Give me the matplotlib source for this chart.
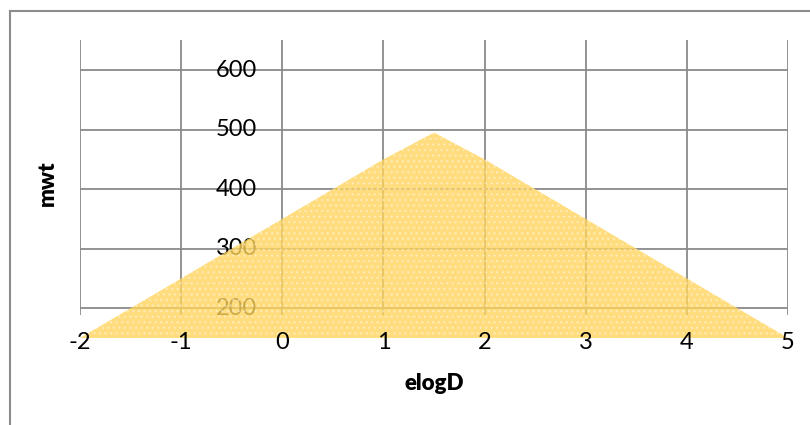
import numpy as np
import matplotlib.pyplot as plt
from matplotlib.lines import Line2D

plt.rcParams['font.family'] = ['Lato', 'DejaVu Sans']
plt.rcParams['hatch.linewidth'] = 1.0

# elogD vs mwt
elogD = [-2, -1, 0, 1, 1.5, 2, 3, 4, 5]
mwt = [150, 250, 350, 450, 495, 450, 350, 250, 150]

x_ticks = [-2, -1, 0, 1, 2, 3, 4, 5]
y_ticks = [200, 300, 400, 500, 600]
y_min, y_max = 150, 650

fig = plt.figure(figsize=(8.1, 4.25), dpi=100)
ax = fig.add_axes([80 / 810, 87 / 425, 708 / 810, 297.7 / 425])
ax.set_xlim(-2, 5)
ax.set_ylim(y_min, y_max)
ax.axis('off')

grid_c = '#8a8a8a'
# horizontal gridlines
for y in y_ticks:
    ax.plot([-2, 5], [y, y], color=grid_c, lw=1.3, zorder=1, solid_capstyle='butt')
# vertical gridlines, running a little below the 200 line
for x in x_ticks:
    ax.plot([x, x], [188, y_max], color=grid_c, lw=1.3, zorder=1, solid_capstyle='butt')

# y tick labels sit left of the x=0 line
for y in y_ticks:
    ax.annotate(str(y), xy=(0, y), xytext=(-18, 0), textcoords='offset points',
                ha='right', va='center', fontsize=17, color='black', zorder=2)

# area
xs = np.array(elogD)
ys = np.array(mwt)
ax.fill_between(xs, y_min, ys, facecolor='#FFD45C', alpha=0.8, lw=0, zorder=3)
ax.fill_between(xs, y_min, ys, facecolor='none', edgecolor='white', hatch='...',
                lw=0, alpha=0.35, zorder=3)

# x tick labels along the bottom
for x in x_ticks:
    ax.annotate(str(x), xy=(x, y_min), xytext=(0, -3), textcoords='offset points',
                ha='center', va='center', fontsize=17, color='black', zorder=4)

fig.text(434 / 810, 1 - 384 / 425, 'elogD', ha='center', va='center',
         fontsize=16, fontweight='heavy')
fig.text(47 / 810, 1 - 183 / 425, 'mwt', ha='center', va='center',
         fontsize=16, fontweight='heavy', rotation=90)

# chart border
fig.add_artist(Line2D([10 / 810, 10 / 810], [0, 1 - 11 / 425], color='#8c8c8c', lw=1.5,
                      transform=fig.transFigure))
fig.add_artist(Line2D([10 / 810, 1], [1 - 11 / 425, 1 - 11 / 425], color='#8c8c8c', lw=1.5,
                      transform=fig.transFigure))

fig.savefig('out.png', dpi=100)
